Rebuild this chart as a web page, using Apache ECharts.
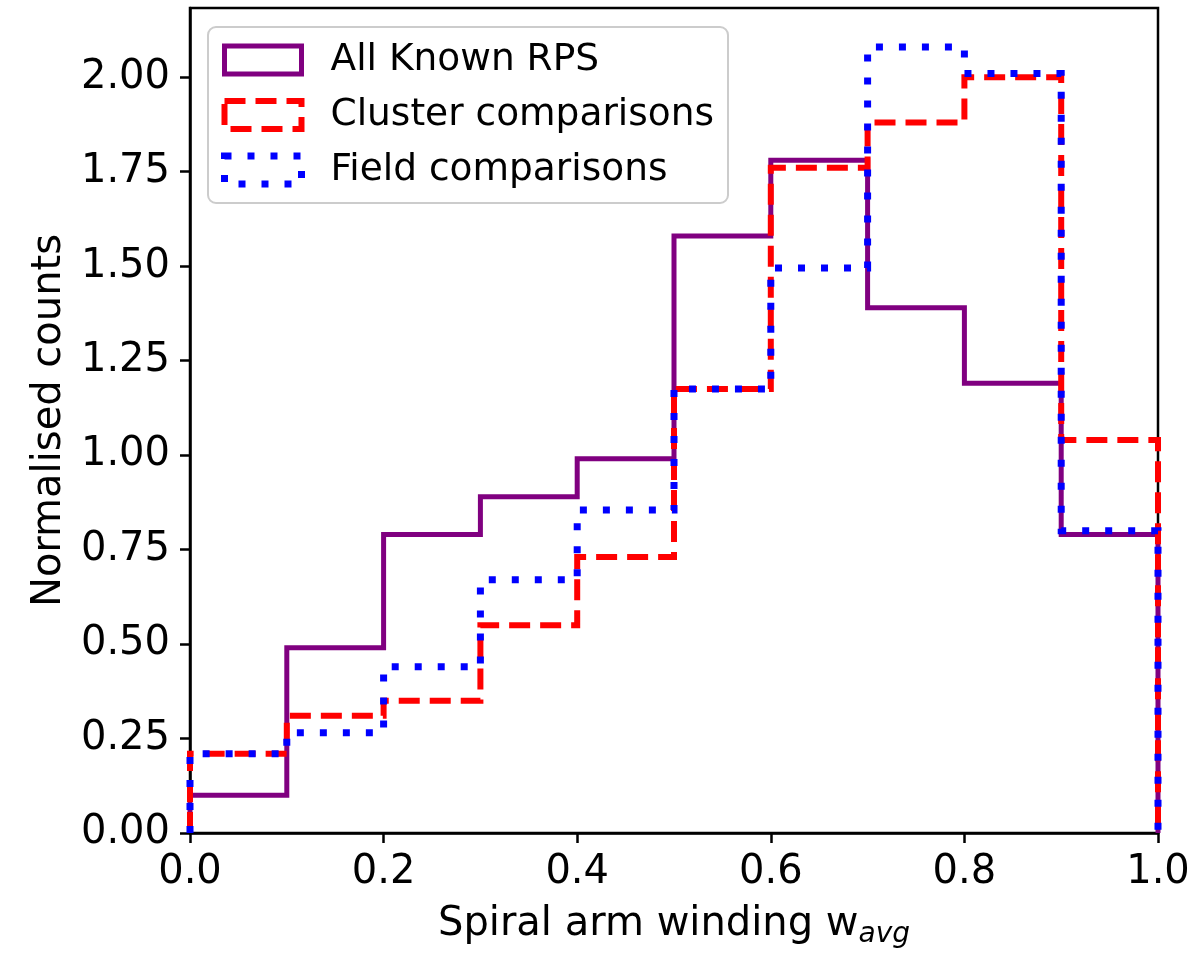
<!DOCTYPE html>
<html>
<head>
<meta charset="utf-8">
<script src="https://cdn.jsdelivr.net/npm/echarts@6/dist/echarts.min.js"></script>
<style>html,body{margin:0;padding:0;background:#fff}#c{width:1200px;height:956px}</style>
</head>
<body>
<div id="c"></div>
<script>
const binEdges = [0.0, 0.1, 0.2, 0.3, 0.4, 0.5, 0.6, 0.7, 0.8, 0.9, 1.0];
const allKnownRPS = [0.10, 0.49, 0.79, 0.89, 0.99, 1.58, 1.78, 1.39, 1.19, 0.79];
const clusterComparisons = [0.21, 0.31, 0.35, 0.55, 0.73, 1.175, 1.76, 1.88, 2.00, 1.04];
const fieldComparisons = [0.21, 0.265, 0.44, 0.67, 0.855, 1.175, 1.495, 2.08, 2.01, 0.80];
const seriesNames = ['All Known RPS', 'Cluster comparisons', 'Field comparisons'];
const xTicks = [0.0, 0.2, 0.4, 0.6, 0.8, 1.0];
const yTicks = [0.00, 0.25, 0.50, 0.75, 1.00, 1.25, 1.50, 1.75, 2.00];

function stepData(vals) {
  const pts = [[binEdges[0], 0]];
  for (let i = 0; i < vals.length; i++) pts.push([binEdges[i], vals[i]]);
  pts.push([binEdges[binEdges.length - 1], 0]);
  return pts;
}

const FONT = 'DejaVu Sans';
const chart = echarts.init(document.getElementById('c'));
chart.setOption({
  animation: false,
  backgroundColor: '#fff',
  textStyle: {fontFamily: FONT},
  grid: {left: 190, right: 42, top: 8, bottom: 123, show: true, borderColor: '#000', borderWidth: 2.5, backgroundColor: 'transparent'},
  legend: {
    orient: 'vertical', left: 208, top: 27,
    padding: [14, 14, 14, 13],
    itemWidth: 77, itemHeight: 28, itemGap: 17,
    backgroundColor: '#fff', borderColor: '#cccccc', borderWidth: 2, borderRadius: 8,
    icon: 'rect',
    textStyle: {fontFamily: FONT, fontSize: 37.5, color: '#000', padding: [0, 0, 0, 24]},
    data: [
      {name: seriesNames[0], itemStyle: {color: 'rgba(0,0,0,0)', borderColor: '#800080', borderWidth: 5, borderType: 'solid'}},
      {name: seriesNames[1], itemStyle: {color: 'rgba(0,0,0,0)', borderColor: '#ff0000', borderWidth: 6, borderType: [21, 10]}},
      {name: seriesNames[2], itemStyle: {color: 'rgba(0,0,0,0)', borderColor: '#0000ff', borderWidth: 7, borderType: [7, 16]}}
    ]
  },
  xAxis: {
    type: 'value', min: 0, max: 1, interval: 0.2,
    name: '{a|Spiral arm winding w}{b|avg}', nameLocation: 'middle', nameGap: 68,
    nameTextStyle: {rich: {
      a: {fontFamily: FONT, fontSize: 40, color: '#000', lineHeight: 48},
      b: {fontFamily: FONT, fontSize: 28, fontStyle: 'italic', color: '#000', lineHeight: 32, verticalAlign: 'bottom'}
    }},
    axisLine: {show: true, lineStyle: {color: '#000', width: 2.5}},
    axisTick: {show: true, length: 10, lineStyle: {color: '#000', width: 2.5}, customValues: xTicks},
    axisLabel: {fontFamily: FONT, fontSize: 40, color: '#000', margin: 20, customValues: xTicks, formatter: v => v.toFixed(1)},
    splitLine: {show: false}
  },
  yAxis: {
    type: 'value', min: 0, max: 2.183, interval: 0.25,
    name: 'Normalised counts', nameLocation: 'middle', nameGap: 113,
    nameTextStyle: {fontFamily: FONT, fontSize: 40, color: '#000'},
    axisLine: {show: true, lineStyle: {color: '#000', width: 2.5}},
    axisTick: {show: true, length: 10, lineStyle: {color: '#000', width: 2.5}, customValues: yTicks},
    axisLabel: {fontFamily: FONT, fontSize: 40, color: '#000', margin: 20, customValues: yTicks, formatter: v => v.toFixed(2)},
    splitLine: {show: false}
  },
  series: [
    {name: seriesNames[0], type: 'line', step: 'end', data: stepData(allKnownRPS), showSymbol: false, symbol: 'none', clip: false,
     itemStyle: {color: '#800080'}, lineStyle: {color: '#800080', width: 5, cap: 'butt', join: 'miter'}},
    {name: seriesNames[1], type: 'line', step: 'end', data: stepData(clusterComparisons), showSymbol: false, symbol: 'none', clip: false,
     itemStyle: {color: '#ff0000'}, lineStyle: {color: '#ff0000', width: 6, type: [21, 10], cap: 'butt', join: 'miter'}},
    {name: seriesNames[2], type: 'line', step: 'end', data: stepData(fieldComparisons), showSymbol: false, symbol: 'none', clip: false,
     itemStyle: {color: '#0000ff'}, lineStyle: {color: '#0000ff', width: 7, type: [7, 16], cap: 'butt', join: 'miter'}}
  ]
});
</script>
</body>
</html>
